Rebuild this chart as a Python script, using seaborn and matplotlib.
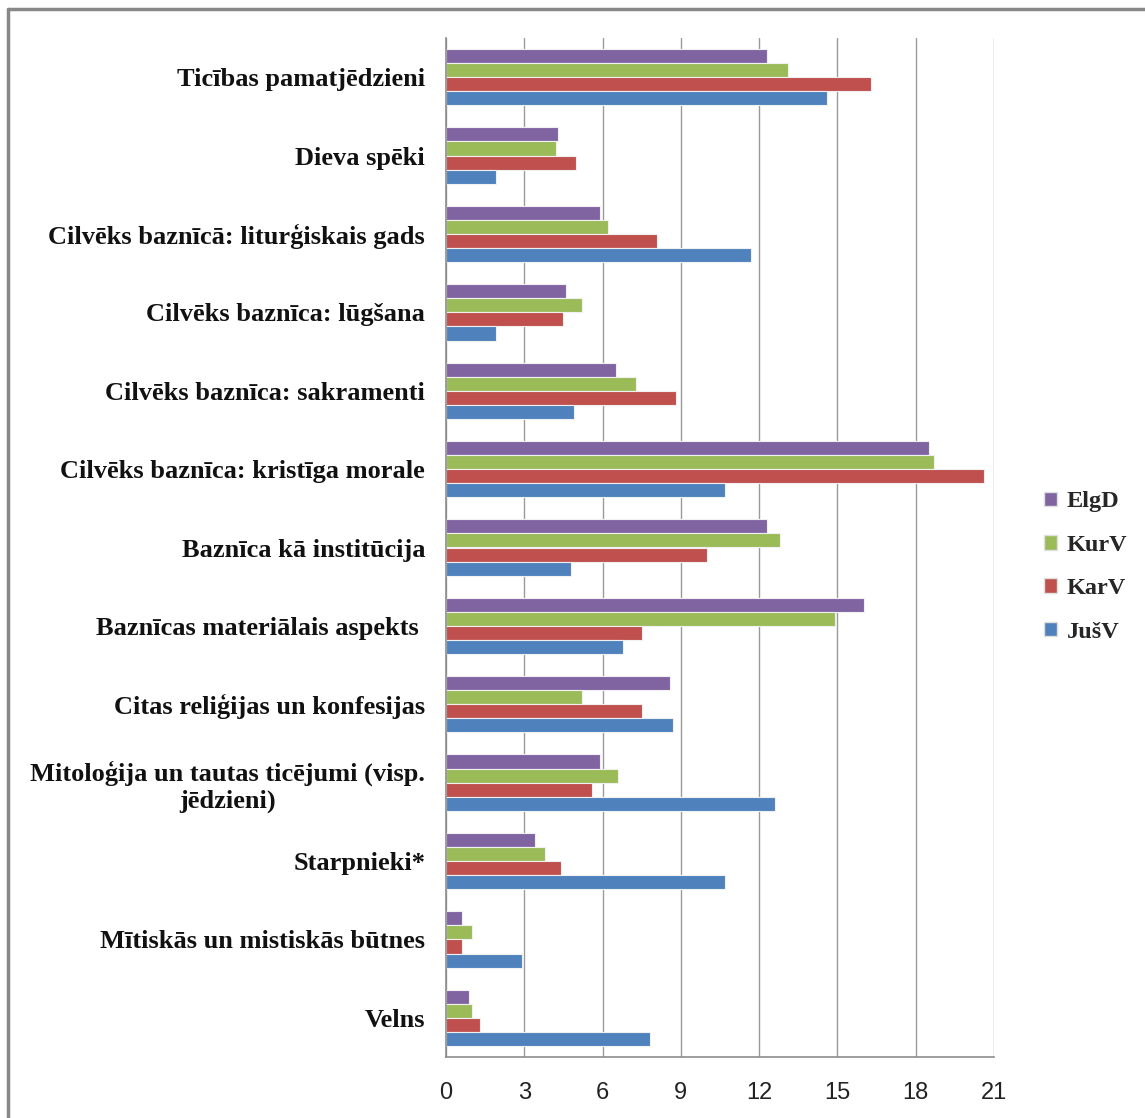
import matplotlib
matplotlib.use("Agg")
import matplotlib.pyplot as plt
from matplotlib.lines import Line2D
from matplotlib.ticker import FixedLocator
import seaborn as sns
import pandas as pd

categories = [
    "Ticības pamatjēdzieni",
    "Dieva spēki",
    "Cilvēks baznīcā: liturģiskais gads",
    "Cilvēks baznīca: lūgšana",
    "Cilvēks baznīca: sakramenti",
    "Cilvēks baznīca: kristīga morale",
    "Baznīca kā institūcija",
    "Baznīcas materiālais aspekts ",
    "Citas reliģijas un konfesijas",
    "Mitoloģija un tautas ticējumi (visp.\njēdzieni)",
    "Starpnieki*",
    "Mītiskās un mistiskās būtnes",
    "Velns",
]
series_names = ["ElgD", "KurV", "KarV", "JušV"]
elgd = [12.3, 4.3, 5.9, 4.6, 6.5, 18.5, 12.3, 16.0, 8.6, 5.9, 3.4, 0.6, 0.9]
kurv = [13.1, 4.2, 6.2, 5.2, 7.3, 18.7, 12.8, 14.9, 5.2, 6.6, 3.8, 1.0, 1.0]
karv = [16.3, 5.0, 8.1, 4.5, 8.8, 20.6, 10.0, 7.5, 7.5, 5.6, 4.4, 0.6, 1.3]
jusv = [14.6, 1.9, 11.7, 1.9, 4.9, 10.7, 4.8, 6.8, 8.7, 12.6, 10.7, 2.9, 7.8]
x_ticks = [0, 3, 6, 9, 12, 15, 18, 21]

colors = ["#8064A2", "#9BBB59", "#C0504D", "#4F81BD"]

rows = []
for name, vals in zip(series_names, [elgd, kurv, karv, jusv]):
    for c, v in zip(categories, vals):
        rows.append({"cat": c, "series": name, "value": v})
df = pd.DataFrame(rows)

sns.set_style("white")
plt.rcParams["font.family"] = ["Liberation Serif", "DejaVu Serif"]

W, H = 1145, 1118
fig = plt.figure(figsize=(W / 100, H / 100), dpi=100)
ax = fig.add_axes([446 / W, 1 - 1057 / H, (994 - 446) / W, (1057 - 38) / H])

sns.barplot(data=df, y="cat", x="value", hue="series", order=categories,
            hue_order=series_names, palette=colors, orient="y", ax=ax,
            width=0.72, edgecolor="#f0f0f0", linewidth=0.8, legend=True,
            errorbar=None, saturation=1)

ax.set_xlim(0, 21)
ax.set_ylim(len(categories) - 0.5, -0.5)
ax.xaxis.set_major_locator(FixedLocator(x_ticks))
ax.set_xticklabels([str(t) for t in x_ticks], fontfamily="Liberation Sans",
                   fontsize=17, color="#222222")
ax.grid(axis="x", color="#9a9a9a", linewidth=1.0)
ax.set_axisbelow(True)
ax.set_xlabel("")
ax.set_ylabel("")

for s in ["top", "right"]:
    ax.spines[s].set_visible(False)
for s in ["left", "bottom"]:
    ax.spines[s].set_color("#8c8c8c")
    ax.spines[s].set_linewidth(1.2)

ax.tick_params(axis="y", which="major", length=0, pad=15)
ax.yaxis.set_minor_locator(FixedLocator([i - 0.5 for i in range(len(categories) + 1)]))
ax.tick_params(axis="y", which="minor", length=7, width=1.2, color="#8c8c8c", direction="out")
ax.tick_params(axis="x", which="major", length=7, width=1.2, color="#8c8c8c",
               direction="out", pad=11)

for lab in ax.get_yticklabels():
    lab.set_fontweight("bold")
    lab.set_fontsize(19)
    lab.set_color("#111111")
    lab.set_multialignment("center")

ax.legend_.remove()
handles = [plt.Rectangle((0, 0), 1, 1, facecolor=c, edgecolor="#e0e0e0") for c in colors]
fig.legend(handles, series_names, loc="center left",
           bbox_to_anchor=(1022 / W, 1 - 567 / H), frameon=False,
           prop={"family": "Liberation Serif", "weight": "bold", "size": 17.5},
           handlelength=0.55, handleheight=0.55, handletextpad=0.4, labelspacing=0.92)

# outer frame (left and top edges)
fig.add_artist(Line2D([7.5 / W, 7.5 / W], [0, 1 - 9 / H], transform=fig.transFigure,
                      color="#888888", linewidth=2.5))
fig.add_artist(Line2D([7.5 / W, 1], [1 - 9 / H, 1 - 9 / H], transform=fig.transFigure,
                      color="#888888", linewidth=2.5))

fig.savefig("out.png", dpi=100, facecolor="white")
